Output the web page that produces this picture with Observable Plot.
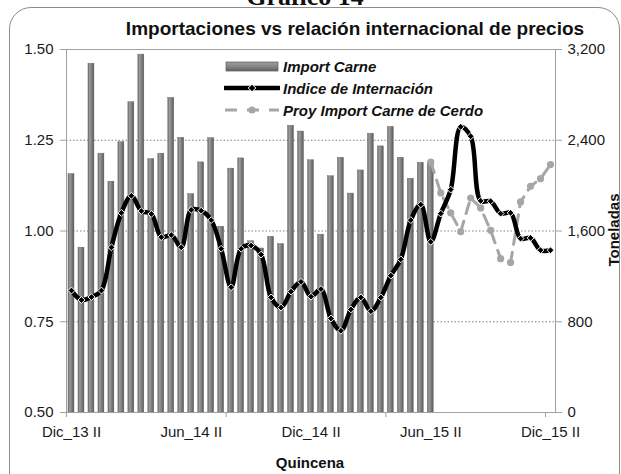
<!DOCTYPE html>
<html>
<head>
<meta charset="utf-8">
<script src="https://cdn.jsdelivr.net/npm/d3@7"></script>
<script src="https://cdn.jsdelivr.net/npm/@observablehq/plot@0.6"></script>
<style>
  html, body { margin: 0; padding: 0; background: #fff; }
  body { font-family: "Liberation Sans", Arial, sans-serif; }
  #wrap { position: relative; width: 621px; height: 474px; overflow: hidden; background: #fff; }
  #border { position: absolute; left: 9px; top: 7px; width: 611px; height: 490px; border: 1px solid #8c8c8c; border-radius: 22px; box-sizing: border-box; }
  #chart { position: absolute; left: 0; top: 0; }
  .txt { position: absolute; white-space: nowrap; line-height: 1; color: #1a1a1a; }
  #sup { left: 0; width: 610px; text-align: center; top: -16px; font-family: "Liberation Serif", "Times New Roman", serif; font-weight: bold; font-size: 26px; color: #111; }
  #title { left: 125px; width: 460px; text-align: center; top: 19px; font-weight: bold; font-size: 19px; color: #111; }
  #xlab { left: 260px; width: 100px; text-align: center; top: 455px; font-weight: bold; font-size: 15px; color: #111; }
  #ylab2 { left: 613px; top: 230px; font-weight: bold; font-size: 15px; color: #111; transform: translate(-50%, -50%) rotate(-90deg); transform-origin: center; }
  .leg { position: absolute; left: 224px; height: 18px; display: flex; align-items: center; }
  .leg span { font-weight: bold; font-style: italic; font-size: 15px; color: #111; margin-left: 3px; }
</style>
</head>
<body>
<div id="wrap">
  <div id="border"></div>
  <div id="chart"></div>
  <div class="txt" id="sup">Gráfico 14</div>
  <div class="txt" id="title">Importaciones vs relación internacional de precios</div>
  <div class="txt" id="xlab">Quincena</div>
  <div class="txt" id="ylab2">Toneladas</div>
  <div class="leg" style="top:57px"><svg width="56" height="14"><defs><linearGradient id="legGrad" x1="0" x2="0" y1="0" y2="1"><stop offset="0" stop-color="#9a9a9a"/><stop offset="0.45" stop-color="#8a8a8a"/><stop offset="1" stop-color="#5e5e5e"/></linearGradient></defs><rect x="2" y="3" width="52" height="9" fill="url(#legGrad)" stroke="#6a6a6a" stroke-width="0.8"/></svg><span>Import Carne</span></div>
  <div class="leg" style="top:79px"><svg width="56" height="14"><line x1="1" y1="7" x2="55" y2="7" stroke="#000" stroke-width="4.5" stroke-linecap="round"/><path d="M28,3.2 L31.8,7 L28,10.8 L24.2,7 Z" fill="#000" stroke="#fff" stroke-width="1"/></svg><span>Indice de Internación</span></div>
  <div class="leg" style="top:101px"><svg width="56" height="14"><line x1="1" y1="7" x2="55" y2="7" stroke="#a6a6a6" stroke-width="3" stroke-dasharray="12,10"/><circle cx="28" cy="7" r="3.6" fill="#a6a6a6"/></svg><span>Proy Import Carne de Cerdo</span></div>
</div>
<script>
// ---- Data ----
const categories = [
  "Dic_13 II",
  "Ene_14 I","Ene_14 II","Feb_14 I","Feb_14 II","Mar_14 I","Mar_14 II",
  "Abr_14 I","Abr_14 II","May_14 I","May_14 II","Jun_14 I","Jun_14 II",
  "Jul_14 I","Jul_14 II","Ago_14 I","Ago_14 II","Sep_14 I","Sep_14 II",
  "Oct_14 I","Oct_14 II","Nov_14 I","Nov_14 II","Dic_14 I","Dic_14 II",
  "Ene_15 I","Ene_15 II","Feb_15 I","Feb_15 II","Mar_15 I","Mar_15 II",
  "Abr_15 I","Abr_15 II","May_15 I","May_15 II","Jun_15 I","Jun_15 II",
  "Jul_15 I","Jul_15 II","Ago_15 I","Ago_15 II","Sep_15 I","Sep_15 II",
  "Oct_15 I","Oct_15 II","Nov_15 I","Nov_15 II","Dic_15 I","Dic_15 II"
];
// Import Carne (toneladas, right axis) — Dic_13 II .. Jun_15 II
const importCarne = [
  2102, 1453, 3075, 2282, 2035, 2384, 2736, 3155, 2234, 2282,
  2774, 2422, 1926, 2205, 2419, 1638, 2150, 2240, 1510, 1446,
  1549, 1485, 2528, 2477, 2224, 1568, 2083, 2246, 1930, 2134,
  2458, 2346, 2518, 2246, 2061, 2202, 2202
];
// Indice de Internación (left axis) — Dic_13 II .. Dic_15 II
const indiceInternacion = [
  0.836, 0.810, 0.818, 0.836, 0.955, 1.050, 1.097, 1.055, 1.047, 0.983,
  0.989, 0.955, 1.058, 1.056, 1.030, 0.951, 0.845, 0.951, 0.960, 0.935,
  0.817, 0.789, 0.833, 0.860, 0.819, 0.840, 0.759, 0.725, 0.784, 0.817,
  0.779, 0.817, 0.877, 0.922, 1.030, 1.073, 0.970, 1.048, 1.114, 1.287,
  1.261, 1.083, 1.082, 1.048, 1.050, 0.979, 0.981, 0.947, 0.947
];
// Proy Import Carne de Cerdo (toneladas, right axis) — Jun_15 II .. Dic_15 II
const proyStart = "Jun_15 II";
const proyImport = [2208, 1936, 1760, 1594, 1891, 1803, 1606, 1356, 1322, 1856, 1994, 2061, 2186];

const leftTicks = [0.50, 0.75, 1.00, 1.25, 1.50];
const rightTicks = [0, 800, 1600, 2400, 3200];
const xTickLabels = ["Dic_13 II", "Jun_14 II", "Dic_14 II", "Jun_15 II", "Dic_15 II"];

// ---- Derived tables ----
const leftMin = leftTicks[0], leftMax = leftTicks[leftTicks.length - 1];
const rightMin = rightTicks[0], rightMax = rightTicks[rightTicks.length - 1];
const toLeft = t => leftMin + (t - rightMin) / (rightMax - rightMin) * (leftMax - leftMin);
const fromLeft = v => rightMin + (v - leftMin) / (leftMax - leftMin) * (rightMax - rightMin);

const bars = importCarne.map((v, i) => ({cat: categories[i], v: toLeft(v)}));
const idx = indiceInternacion.map((v, i) => ({cat: categories[i], v}));
const p0 = categories.indexOf(proyStart);
const proj = proyImport.map((v, i) => ({cat: categories[p0 + i], v: toLeft(v)}));
const tickMarkCats = categories.filter((d, i) => i % 16 === 0);

const font = '"Liberation Sans", Arial, sans-serif';
const chart = Plot.plot({
  width: 621,
  height: 474,
  marginLeft: 66,
  marginRight: 66,
  marginTop: 49,
  marginBottom: 62,
  style: {fontFamily: font, fontSize: "15px", background: "transparent", color: "#1a1a1a", overflow: "visible"},
  x: {type: "band", domain: categories, paddingInner: 0.4, paddingOuter: 0.2, axis: null, label: null},
  y: {domain: [leftMin, leftMax], axis: null, label: null},
  marks: [
    Plot.ruleY(leftTicks.slice(1, -1), {stroke: "#808080", strokeWidth: 1, strokeDasharray: "1.5,2"}),
    Plot.barY(bars, {x: "cat", y1: leftMin, y2: "v", fill: "url(#barGrad)", stroke: "#666", strokeWidth: 0.4}),
    Plot.frame({stroke: "#a0a0a0"}),
    Plot.axisY(leftTicks, {anchor: "left", label: null, tickSize: 6, tickPadding: 7, tickFormat: d3.format(".2f"), stroke: "#a0a0a0", fill: "#1a1a1a", fontSize: 15}),
    Plot.axisY(rightTicks.map(toLeft), {anchor: "right", label: null, tickSize: 6, tickPadding: 6, tickFormat: v => d3.format(",")(Math.round(fromLeft(v))), stroke: "#a0a0a0", fill: "#1a1a1a", fontSize: 15}),
    Plot.axisX(xTickLabels, {anchor: "bottom", label: null, tickSize: 0, tickPadding: 14, fill: "#1a1a1a", fontSize: 15}),
    Plot.axisX(tickMarkCats, {anchor: "bottom", label: null, tickSize: 5, tickFormat: () => "", stroke: "#a0a0a0", dx: -5}),
    Plot.line(proj, {x: "cat", y: "v", stroke: "#a6a6a6", strokeWidth: 3, strokeDasharray: "11,8"}),
    Plot.dot(proj, {x: "cat", y: "v", r: 3.6, fill: "#a6a6a6", stroke: "none"}),
    Plot.line(idx, {x: "cat", y: "v", stroke: "#000", strokeWidth: 4.5, curve: "catmull-rom"}),
    Plot.dot(idx, {x: "cat", y: "v", symbol: "diamond2", r: 3.1, fill: "#000", stroke: "#fff", strokeWidth: 1})
  ]
});

const ns = "http://www.w3.org/2000/svg";
const defs = document.createElementNS(ns, "defs");
defs.innerHTML = '<linearGradient id="barGrad" x1="0" x2="1" y1="0" y2="0">' +
  '<stop offset="0" stop-color="#6a6a6a"/>' +
  '<stop offset="0.3" stop-color="#9c9c9c"/>' +
  '<stop offset="0.6" stop-color="#808080"/>' +
  '<stop offset="1" stop-color="#5a5a5a"/>' +
  '</linearGradient>';
chart.insertBefore(defs, chart.firstChild);
document.getElementById("chart").appendChild(chart);
</script>
</body>
</html>
